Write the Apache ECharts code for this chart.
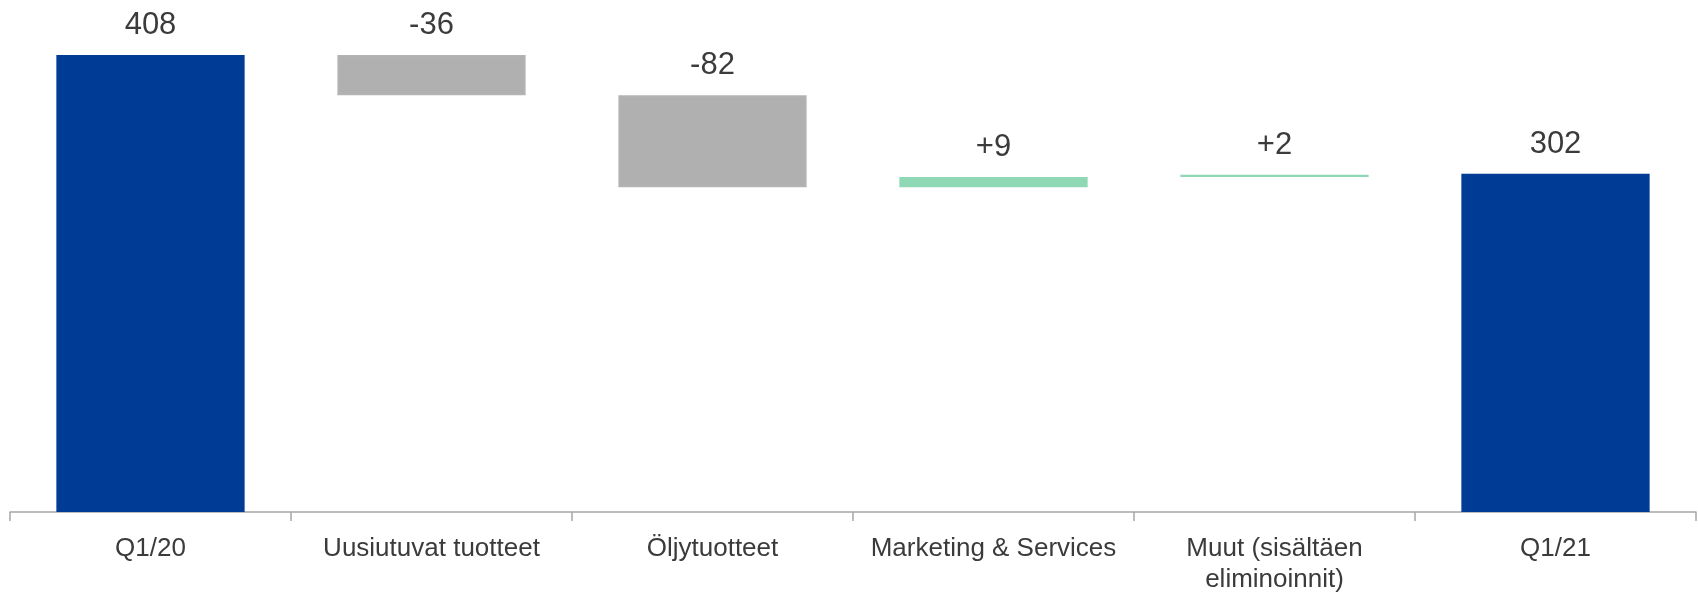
<!DOCTYPE html>
<html>
<head>
<meta charset="utf-8">
<script src="https://cdn.jsdelivr.net/npm/echarts@6/dist/echarts.min.js"></script>
<style>
html,body{margin:0;padding:0;background:#fff;}
#c{width:1698px;height:595px;}
</style>
</head>
<body>
<div id="c"></div>
<script>
var categories = ['Q1/20', 'Uusiutuvat tuotteet', 'Öljytuotteet', 'Marketing & Services', 'Muut (sisältäen\neliminoinnit)', 'Q1/21'];
var startTotal = 408;
var endTotal = 302;
var deltas = [-36, -82, 9, 2];

// derive waterfall pieces
var baseData = [0];
var totalData = [startTotal];
var decData = ['-'];
var incData = ['-'];
var running = startTotal;
deltas.forEach(function (d) {
  var next = running + d;
  baseData.push(Math.min(running, next));
  totalData.push('-');
  if (d < 0) { decData.push(-d); incData.push('-'); }
  else { incData.push(d); decData.push('-'); }
  running = next;
});
baseData.push(0);
totalData.push(endTotal);
decData.push('-');
incData.push('-');

function signed(idx) {
  var d = deltas[idx - 1];
  return (d > 0 ? '+' : '') + d;
}

var FONT = '"Liberation Sans", Arial, sans-serif';
var TXT = '#3b3b3b';
var valueLabel = {
  show: true, position: 'top', distance: 14,
  fontFamily: FONT, fontSize: 31, color: TXT
};

var chart = echarts.init(document.getElementById('c'), null, {renderer: 'canvas'});
chart.setOption({
  animation: false,
  backgroundColor: '#ffffff',
  grid: {left: 10, right: 2, top: 55, bottom: 75, containLabel: false},
  xAxis: {
    type: 'category',
    data: categories,
    axisLine: {lineStyle: {color: '#a6a6a6', width: 1.5}},
    axisTick: {show: true, length: 9, lineStyle: {color: '#a6a6a6', width: 1.5}},
    axisLabel: {
      fontFamily: FONT, fontSize: 26, color: TXT, margin: 21,
      lineHeight: 31, interval: 0
    }
  },
  yAxis: {
    type: 'value', min: 0, max: Math.max(startTotal, endTotal),
    show: false, splitLine: {show: false}
  },
  series: [
    {
      name: 'base', type: 'bar', stack: 'w', barWidth: '67%',
      itemStyle: {color: 'rgba(0,0,0,0)'},
      emphasis: {disabled: true},
      data: baseData
    },
    {
      name: 'total', type: 'bar', stack: 'w', barWidth: '67%',
      itemStyle: {color: '#003b95'},
      label: Object.assign({}, valueLabel, {formatter: function (p) { return String(p.value); }}),
      data: totalData
    },
    {
      name: 'decrease', type: 'bar', stack: 'w', barWidth: '67%',
      itemStyle: {color: '#b0b0b0', borderColor: '#b4b4b4', borderWidth: 1.5},
      label: Object.assign({}, valueLabel, {formatter: function (p) { return signed(p.dataIndex); }}),
      data: decData
    },
    {
      name: 'increase', type: 'bar', stack: 'w', barWidth: '67%',
      itemStyle: {color: '#8ed8b5', borderColor: '#8ed8b5', borderWidth: 1.5},
      label: Object.assign({}, valueLabel, {formatter: function (p) { return signed(p.dataIndex); }}),
      data: incData
    }
  ]
});
</script>
</body>
</html>
